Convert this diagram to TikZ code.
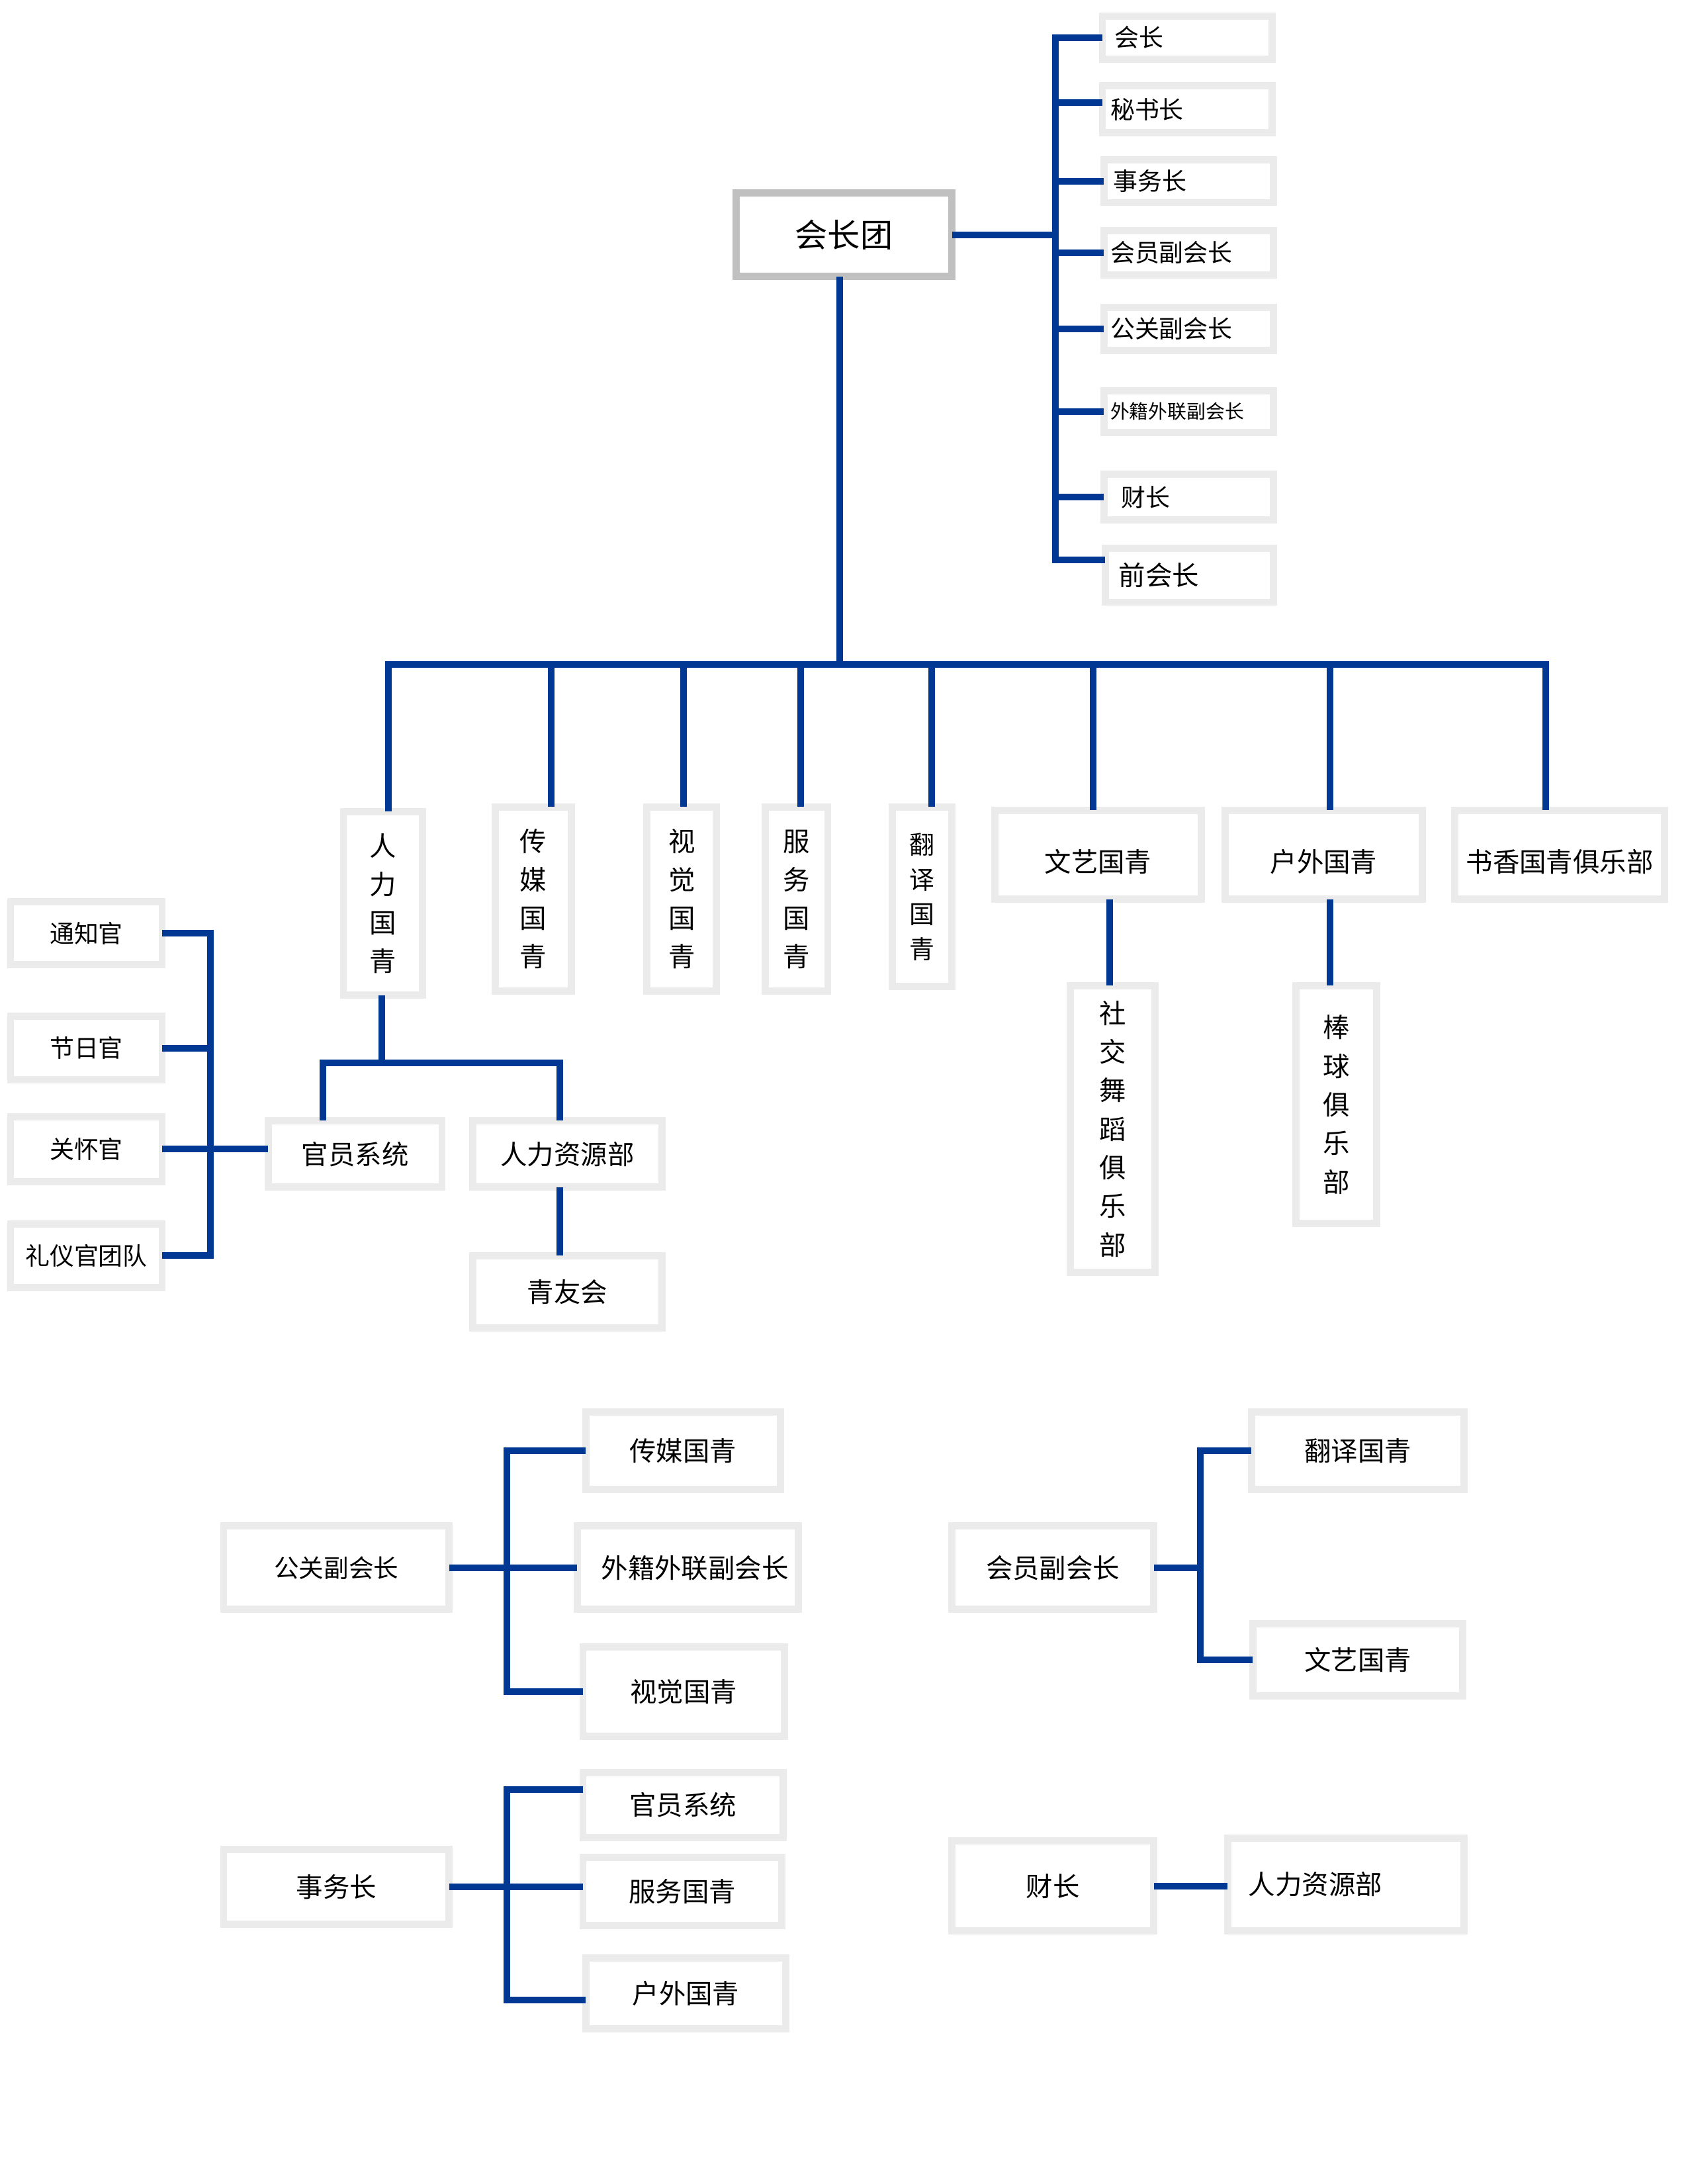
\documentclass[tikz,border=0pt]{standalone}
\usepackage{fontspec}
\setmainfont{Noto Sans CJK SC}
\usetikzlibrary{calc}
\definecolor{lineblue}{HTML}{003893}
\definecolor{boxgray}{HTML}{EBEBEB}
\definecolor{topgray}{HTML}{C0C0C0}
\newlength\unitpx \setlength\unitpx{0.0210396cm}
\newcommand\fsz[2]{\fontsize{#1pt}{#2pt}\selectfont}
\newcommand\lowr[1]{\raisebox{-5\unitpx}[\height][\depth]{#1}}
\newcommand\bx[7][]{\node[box,minimum width={(#5-#3-5.2)*\unitpx},minimum height={(#6-#4-5.2)*\unitpx},#1] (#2) at ({(#3+#5)/2},{(#4+#6)/2}) {#7};}
\tikzset{
  box/.style={draw=boxgray,line width=5.2\unitpx,fill=white,inner sep=0pt,align=center,font=\fsz{11.5}{14}},
  vert/.style={font=\fsz{11.5}{16.5}},
  conn/.style={draw=lineblue,line width=4.8\unitpx,line cap=rect},
  txt/.style={inner sep=0pt,anchor=west,font=\fsz{10.5}{12}},
}
\begin{document}
\begin{tikzpicture}[x={(0.0210396cm,0)},y={(0,-0.0210396cm)}]
\useasboundingbox[fill=white] (0,0) rectangle (1212,1568);
% ---------- top group
\bx[draw=topgray,line width=5.5\unitpx,font=\fsz{14}{16}]{hzt}{526}{136}{686}{201}{会长团}
\bx{r1}{789}{9}{916}{45}{}
\bx{r2}{789}{59}{916}{98}{}
\bx{r3}{790}{112}{917}{148}{}
\bx{r4}{790}{163}{917}{200}{}
\bx{r5}{790}{218}{917}{254}{}
\bx{r6}{790}{278}{917}{313}{}
\bx{r7}{790}{338}{917}{376}{}
\bx{r8}{791}{391}{917}{435}{}
\node[txt] (r1t) at ([xshift=11\unitpx]r1.west) {会长};
\node[txt] (r2t) at ([xshift=8\unitpx]r2.west) {秘书长};
\node[txt] (r3t) at ([xshift=9\unitpx]r3.west) {事务长};
\node[txt] (r4t) at ([xshift=7\unitpx]r4.west) {会员副会长};
\node[txt] (r5t) at ([xshift=7\unitpx]r5.west) {公关副会长};
\node[txt,font=\fsz{8.2}{10}] (r6t) at ([xshift=7\unitpx]r6.west) {外籍外联副会长};
\node[txt] (r7t) at ([xshift=15\unitpx]r7.west) {财长};
\node[txt,font=\fsz{11.5}{13}] (r8t) at ([xshift=12\unitpx]r8.west) {前会长};
% ---------- level 2
\bx[vert]{l1}{244}{580}{306}{717}{人\\力\\国\\青}
\bx[vert]{l2}{353}{577}{413}{714}{传\\媒\\国\\青}
\bx[vert]{l3}{462}{577}{517}{714}{视\\觉\\国\\青}
\bx[vert]{l4}{547}{577}{597}{714}{服\\务\\国\\青}
\bx[font=\fsz{10.8}{15}]{l5}{638}{577}{686}{711}{翻\\译\\国\\青}
\bx{l6}{712}{579}{865}{648}{\lowr{文艺国青}}
\bx{l7}{877}{579}{1024}{648}{\lowr{户外国青}}
\bx{l8}{1042}{579}{1198}{648}{\lowr{书香国青俱乐部}}
\bx[font=\fsz{11.5}{16.6}]{sj}{766}{705}{832}{916}{社\\交\\舞\\蹈\\俱\\乐\\部}
\bx[font=\fsz{11.5}{16.6}]{bq}{928}{705}{991}{881}{棒\\球\\俱\\乐\\部}
% ---------- HR sub
\bx{gy}{190}{802}{320}{855}{官员系统}
\bx{hr}{337}{802}{478}{855}{人力资源部}
\bx{qy}{337}{899}{478}{956}{青友会}
% ---------- left
\bx[font=\fsz{10.5}{12}]{a1}{5}{645}{119}{695}{通知官}
\bx[font=\fsz{10.5}{12}]{a2}{5}{727}{119}{778}{节日官}
\bx[font=\fsz{10.5}{12}]{a3}{5}{799}{119}{851}{关怀官}
\bx[font=\fsz{10.5}{12}]{a4}{5}{876}{119}{927}{礼仪官团队}
% ---------- bottom groups
\bx[font=\fsz{10.7}{12}]{b0}{158}{1093}{325}{1158}{公关副会长}
\bx{b1}{418}{1011}{563}{1072}{传媒国青}
\bx{b2}{412}{1093}{576}{1158}{\hspace*{10\unitpx}外籍外联副会长}
\bx{b3}{416}{1180}{566}{1249}{视觉国青}
\bx{c0}{681}{1093}{831}{1158}{会员副会长}
\bx{c1}{896}{1011}{1054}{1072}{翻译国青}
\bx{c2}{897}{1163}{1053}{1220}{文艺国青}
\bx{d0}{158}{1325}{325}{1384}{事务长}
\bx{d1}{416}{1270}{565}{1322}{官员系统}
\bx{d2}{416}{1331}{564}{1385}{服务国青}
\bx{d3}{418}{1403}{567}{1459}{户外国青}
\bx{e0}{681}{1319}{831}{1389}{财长}
\bx{e1}{879}{1317}{1054}{1389}{}
\node[inner sep=0pt,font=\fsz{11.5}{14}] (e1t) at ([xshift=-22\unitpx]e1.center) {人力资源部};
% ---------- connectors: top
\coordinate (rbus) at (758,166);
\draw[conn] (hzt.east) -- (hzt.east -| rbus);
\path ($(r2.west)+(0,-5)$) coordinate (r2w);
\path ($(r8.west)+(0,-11)$) coordinate (r8w);
\draw[conn] (rbus |- r1.west) -- (rbus |- r8w);
\foreach \n in {r1,r3,r4,r5,r6,r7} \draw[conn] (rbus |- \n.west) -- (\n.west);
\draw[conn] (rbus |- r2w) -- (r2w);
\draw[conn] (rbus |- r8w) -- (r8w);
% main trunk
\coordinate (mbus) at (603,477);
\draw[conn] (hzt.south -| mbus) -- (mbus);
\foreach \n/\d in {l1/4,l2/13,l3/1.5,l4/3,l5/7,l6/-3.5,l7/4.5,l8/-10}{
  \path ($(\n.north)+(\d,0)$) coordinate (d\n);
  \draw[conn] (d\n) -- (d\n |- mbus);
}
\draw[conn] (dl1 |- mbus) -- (dl8 |- mbus);
\path ($(sj.north)+(-2,0)$) coordinate (sjt);
\draw[conn] (sjt |- l6.south) -- (sjt);
\path ($(bq.north)+(-4.5,0)$) coordinate (bqt);
\draw[conn] (bqt |- l7.south) -- (bqt);
% HR sub
\coordinate (hbus) at (274,763);
\draw[conn] (l1.south -| hbus) -- (hbus);
\path ($(gy.north)+(-23,0)$) coordinate (gyt);
\path ($(hr.north)+(-5.5,0)$) coordinate (hrt);
\draw[conn] (gyt) -- (gyt |- hbus) -- (hrt |- hbus) -- (hrt);
\draw[conn] (hr.south -| hrt) -- (qy.north -| hrt);
% left
\coordinate (lbus) at (151,0);
\draw[conn] (lbus |- a1.east) -- (lbus |- a4.east);
\foreach \n in {a1,a2,a4} \draw[conn] (\n.east) -- (lbus |- \n.east);
\draw[conn] (a3.east) -- (a3.east -| gy.west);
% bottom b
\coordinate (bbus) at (364,0);
\draw[conn] (bbus |- b1.west) -- (bbus |- b3.west);
\draw[conn] (b0.east) -- (b0.east -| b2.west);
\draw[conn] (bbus |- b1.west) -- (b1.west);
\draw[conn] (bbus |- b3.west) -- (b3.west);
% bottom c
\coordinate (cbus) at (862,0);
\draw[conn] (cbus |- c1.west) -- (cbus |- c2.west);
\draw[conn] (c0.east) -- (c0.east -| cbus);
\draw[conn] (cbus |- c1.west) -- (c1.west);
\draw[conn] (cbus |- c2.west) -- (c2.west);
% bottom d
\coordinate (dbus) at (364,0);
\path ($(d1.west)+(0,-11)$) coordinate (d1w);
\path ($(d3.west)+(0,5)$) coordinate (d3w);
\draw[conn] (dbus |- d1w) -- (dbus |- d3w);
\draw[conn] (d0.east) -- (d0.east -| d2.west);
\draw[conn] (dbus |- d1w) -- (d1w);
\draw[conn] (dbus |- d3w) -- (d3w);
% bottom e
\draw[conn] (e0.east) -- (e0.east -| e1.west);
\end{tikzpicture}
\end{document}
